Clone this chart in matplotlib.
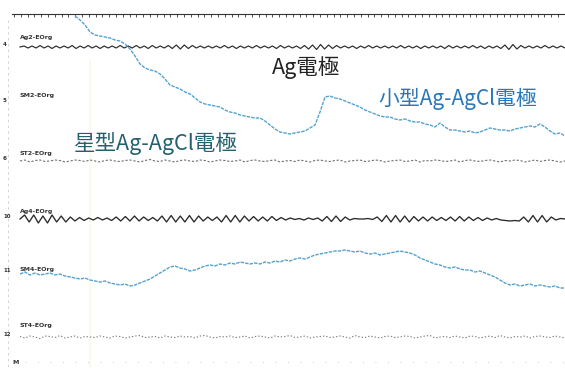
import numpy as np
import matplotlib
matplotlib.use('Agg')
from matplotlib import pyplot as plt

plt.rcParams['font.family'] = ['Noto Sans CJK JP', 'DejaVu Sans']

# channel names / numbers, top to bottom
ch_names = ['Ag2-EOrg', 'SM2-EOrg', 'ST2-EOrg', 'Ag4-EOrg', 'SM4-EOrg', 'ST4-EOrg']
ch_numbers = ['4', '5', '6', '10', '11', '12']

# deflection of each trace (px, positive = up)
ag2 = [0, 1, -1, 1, -1, 1.5, -1, 1, -1.5, 1,
       -1, 1, -1, 1.5, -1.5, 1, -1, 1.5, -1, 1,
       -1.5, 1, -1, 1, -1, 1.5, -1, 1, -1, 1.5,
       -1, 1, -1.5, 1.5, -1, 1, -1, 1.5, -1.5, 2,
       -2, 2, -1.5, 1.5, -1, 1, -1, 1, -1, 1,
       -1, 1.5, -1, 1, -1.5, 1, -1, 1, -1, 1.5,
       -1, 1, -1, 1, -1.5, 1.5, -1, 1, -1, 1,
       -1.5, 1.5, -2, 2, -2.5, 2.5, -2, 2, -1.5, 1.5,
       -1, 1, -1, 1, -1.5, 1, -1, 1.5, -1, 1,
       -1, 1, -1, 1, -1, 1.5, -1, 1, -1, 1,
       -1.5, 1, -1, 1, -1, 1, -1.5, 1.5, -1, 1,
       -1, 1, -1, 1.5, -1, 1, -1.5, 1, -1, 1,
       -1.5, 2, -2.5, 2.5, -2, 1.5, -1, 1, -1, 1,
       -1, 1.5, -1, 1, -1, 1, -1]

sm2 = [87, 83, 78, 71, 68, 67, 66, 65, 63, 62,
       59, 54, 47, 39, 35, 33, 32, 29, 24, 18,
       16, 14, 11, 9, 5, 1, -1, -2, -3, -4,
       -7, -9, -10, -12, -13, -14, -15, -15, -18, -22,
       -26, -29, -30, -31, -30, -29, -28, -25, -22, -9,
       6, 7, 5, 4, 2, 0, -2, -4, -7, -9,
       -11, -13, -14, -14, -16, -17, -16, -18, -19, -19,
       -21, -22, -24, -20, -24, -27, -27, -28, -29, -28,
       -30, -29, -27, -25, -26, -27, -27, -28, -26, -25,
       -24, -23, -24, -21, -24, -28, -31, -30, -33]

st2 = [0, 1, -1, 0.5, 1, -0.5, 0, 1, 0.5, -1,
       0, 1, 0.5, -0.5, 1, 0, -1, 0.5, 1, 0,
       -0.5, 0.5, 1, 0, -1, 0.5, 1.5, 0, -0.5, 1,
       0, -1, 0.5, 1, 0, -0.5, 1, 0.5, -1, 0,
       1, 0.5, -0.5, 0, 1, -1, 0.5, 1, 0, -0.5,
       0.5, 1, -1, 0, 0.5, -0.5, 1, 0, -1, 0.5,
       1, 0, -0.5, 0.5, 1, -1, 0, 0.5, 1, -0.5,
       0, 1, 0.5, -1, 0, 0.5, 1, -0.5, 0, 1,
       -1, 0.5, 0, 1, 0.5, -0.5, 0, 1, -1, 0.5,
       1, 0, -0.5, 0.5, 1, 0, -1, 0.5, 0, 1,
       0.5, -1, 0, 1, -0.5, 0.5, 1, 0, -1, 0]

ag4 = [0, 4, -3, 4, -4, 3, -4, 4, -3, 3,
       -3, 2, -2, 1.5, -1.5, 1, -1, 1.5, -1, 1,
       -1.5, 2, -2, 2.5, -2, 3, -2, 2, -1.5, 1.5,
       -2, 3, -3, 3.5, -3, 3, -3, 3.5, -3, 3,
       -2, 2, -1.5, 2, -3, 3.5, -3, 3.5, -3, 3,
       -2, 2.5, -2, 2, -2, 2.5, -1.5, 1.5, -1, 1,
       -0.5, 0.5, -1, 1, -0.5, 1, -2, 2.5, -2.5, 3,
       -2.5, 2, -1, 0.5, 0, 0, 0.5, -0.5, 2, -2.5,
       3.5, -3, 3.5, -3, 3, -3, 2.5, -2, 2, -2,
       2, -1.5, 1.5, -1.5, 2, -2, 2.5, -2, 2, -1.5,
       1.5, -1.5, 1, -1, 0.5, -1, -1.5, -2, -1.5, -2,
       2, -3, 3.5, -3, 3.5, -3, 2, -1, 0.5, 0]

sm4 = [-2, 0, -3, -1, -3, -2, -1, -3, -2, -4,
       -5, -6, -7, -6, -8, -9, -10, -9, -11, -12,
       -13, -12, -14, -13, -11, -9, -7, -4, -1, 2,
       5, 6, 4, 3, 1, 2, 4, 6, 7, 6,
       8, 7, 9, 8, 10, 9, 8, 9, 8, 10,
       9, 11, 10, 12, 11, 13, 14, 13, 15, 17,
       18, 19, 20, 21, 21, 22, 21, 20, 21, 19,
       18, 19, 17, 18, 19, 20, 21, 20, 19, 17,
       14, 12, 10, 8, 7, 5, 4, 5, 3, 2,
       2, 0, 1, -1, -3, -5, -8, -11, -13, -12,
       -14, -13, -12, -14, -13, -14, -15, -14, -16, -16]

st4 = [0.5, -1, 1, 0, -1.5, 1, 0.5, -0.5, 1.5, -1,
       0, 1, -1, 0.5, 0, -0.5, 1, 0, -1, 1,
       0.5, -1, 0, 1, 1.5, -0.5, 0, 0.5, -1, 1,
       0, -0.5, 1, 0, 0.5, -1, 1, 1.5, 0, -1,
       0.5, 0, 1, -0.5, 0, 1, -1, 0.5, 1, 0,
       -1, 1, 0, 0.5, 1.5, -0.5, 0, 1, -1, 0,
       0.5, 1, -0.5, 0, 1, 0, -1, 1.5, 0, -0.5,
       1, 0, -1, 0.5, 1, -0.5, 0, 1, 0.5, -1,
       0, 1, 1.5, -1, 0, 0.5, -0.5, 1, 0, -1,
       1, 0.5, -1, 0, 1, -0.5, 1.5, 0, -1, 0.5,
       0, 1, -1, 0.5, 1, 0, -0.5, 1, 0, -1]

traces = [ag2, sm2, st2, ag4, sm4, st4]
baselines = [47, 103, 161, 219, 272, 337]
starts = [20, 75, 20, 20, 20, 20]
colors = ['#2a2a2a', '#55a2cf', '#707070', '#2a2a2a', '#55a2cf', '#7c7c7c']
styles = ['-', (0, (2.5, 0.8)), (0, (2, 1.6)), '-', (0, (2.5, 0.8)), (0, (1.2, 1.8))]
widths = [0.85, 1.0, 0.8, 0.95, 1.0, 0.8]
label_y = [38, 96, 154, 211, 269, 325]

fig = plt.figure(figsize=(5.65, 3.68), dpi=100)
ax = fig.add_axes([0, 0, 1, 1])
ax.set_xlim(0, 565)
ax.set_ylim(368, 0)
ax.axis('off')

# scan artefacts: dashed left margin, faint yellow streak
ax.plot([8, 8], [20, 368], color='#cccccc', lw=0.6, ls=(0, (3, 4)))
ax.plot([90, 90], [60, 368], color='#fbf8ea', lw=1.2)

# time marker line
ax.plot([12, 565], [13.5, 13.5], color='#333333', lw=0.8)
ax.vlines(np.arange(14, 565, 6.8), 13.5, 17, color='#333333', lw=0.6)

for vals, base, x0, c, ls, lw in zip(traces, baselines, starts, colors, styles, widths):
    x = np.linspace(x0, 565, len(vals))
    ax.plot(x, base - np.array(vals), color=c, ls=ls, lw=lw)

for name, num, ly, base in zip(ch_names, ch_numbers, label_y, baselines):
    ax.text(20, ly, name, fontsize=4.5, fontweight='bold', color='#333333',
            family='DejaVu Sans', va='center', ha='left')
    ax.text(3, base - 2, num, fontsize=4, fontweight='bold', color='#333333',
            family='DejaVu Sans', va='center', ha='left')

# bottom marker row
ax.text(12, 362, 'M', fontsize=4.5, fontweight='bold', color='#333333',
        family='DejaVu Sans', va='center', ha='left')
ax.plot([25, 565], [362, 362], color='#bbbbbb', lw=0.6, ls=(0, (1, 14)))

# electrode annotations
ax.text(306, 68, 'Ag電極', fontsize=15.5, color='#222222', ha='center', va='center')
ax.text(458, 99, '小型Ag-AgCl電極', fontsize=15, color='#2a78b8', ha='center', va='center')
ax.text(156, 143, '星型Ag-AgCl電極', fontsize=15.5, color='#25606d', ha='center', va='center')

fig.savefig('out.png', dpi=100)
